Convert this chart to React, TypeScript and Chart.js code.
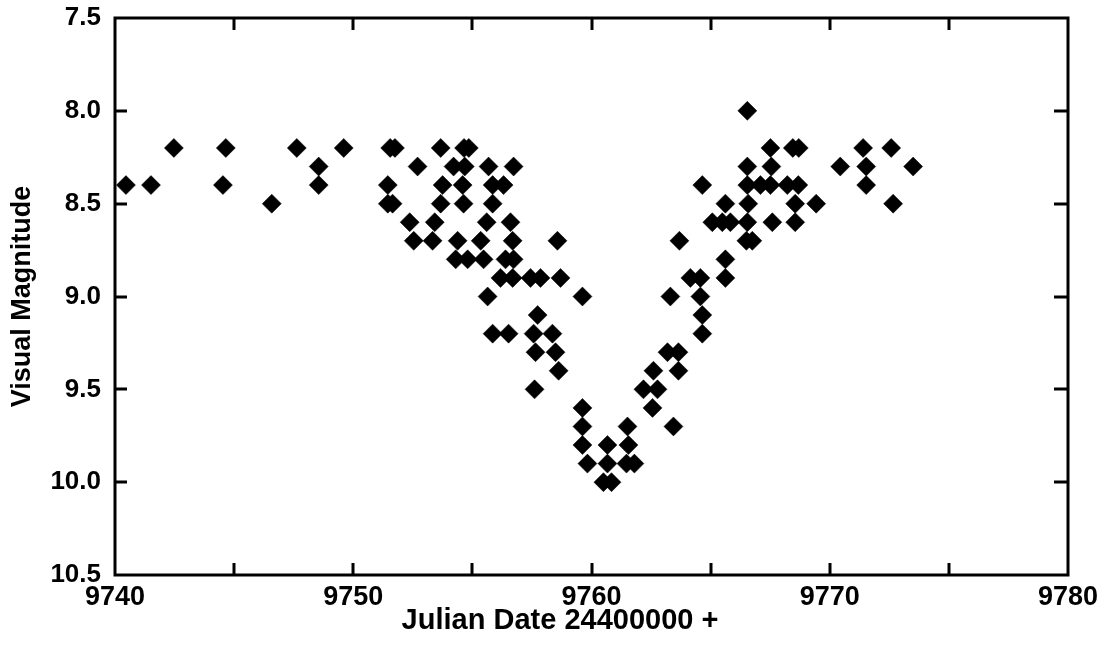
import React, { useEffect, useRef } from "react";
import { Chart, registerables } from "chart.js";

Chart.register(...registerables);

// Julian Date (minus 2440000) of each observation
const julianDates: number[] = [
  9740.46, 9741.51, 9742.47, 9744.65, 9744.53, 9746.58, 9747.63, 9748.55, 9748.55, 9749.6,
  9751.55, 9751.75, 9753.67, 9754.65, 9754.85,
  9752.7, 9754.21, 9754.68, 9755.68, 9756.73,
  9751.45, 9753.75, 9754.59, 9755.85, 9756.31,
  9751.45, 9751.65, 9753.67, 9754.63, 9755.85,
  9752.37, 9753.42, 9755.6, 9756.6,
  9752.54, 9753.33, 9754.38, 9755.35, 9756.69, 9758.57,
  9754.3, 9754.8, 9755.47, 9756.39, 9756.73,
  9756.18, 9756.69, 9757.44, 9757.86, 9758.7,
  9755.64, 9759.62, 9757.74,
  9755.85, 9756.52, 9757.57, 9758.36,
  9757.65, 9758.49, 9758.62, 9757.61,
  9759.62, 9759.62, 9759.62, 9759.83,
  9760.67, 9760.67, 9760.5, 9760.84,
  9761.51, 9761.55, 9761.47, 9761.8,
  9762.6, 9762.18, 9762.77, 9762.56, 9763.44,
  9763.19, 9763.65, 9763.65, 9763.31, 9763.69,
  9764.15, 9764.57, 9764.57, 9764.65, 9764.65, 9764.65,
  9765.62, 9765.62, 9765.07, 9765.49, 9765.83, 9765.62,
  9766.54, 9766.54, 9766.54, 9767.09, 9767.51, 9768.22, 9768.68,
  9766.58, 9766.54, 9766.5, 9766.75,
  9767.51, 9768.45, 9768.7, 9767.55, 9768.55, 9769.43, 9767.59, 9768.55,
  9771.4, 9772.58, 9770.44, 9771.53, 9773.5, 9771.53, 9772.66,
];

// Visual magnitude of each observation (same order)
const magnitudes: number[] = [
  8.4, 8.4, 8.2, 8.2, 8.4, 8.5, 8.2, 8.3, 8.4, 8.2,
  8.2, 8.2, 8.2, 8.2, 8.2,
  8.3, 8.3, 8.3, 8.3, 8.3,
  8.4, 8.4, 8.4, 8.4, 8.4,
  8.5, 8.5, 8.5, 8.5, 8.5,
  8.6, 8.6, 8.6, 8.6,
  8.7, 8.7, 8.7, 8.7, 8.7, 8.7,
  8.8, 8.8, 8.8, 8.8, 8.8,
  8.9, 8.9, 8.9, 8.9, 8.9,
  9.0, 9.0, 9.1,
  9.2, 9.2, 9.2, 9.2,
  9.3, 9.3, 9.4, 9.5,
  9.6, 9.7, 9.8, 9.9,
  9.8, 9.9, 10.0, 10.0,
  9.7, 9.8, 9.9, 9.9,
  9.4, 9.5, 9.5, 9.6, 9.7,
  9.3, 9.3, 9.4, 9.0, 8.7,
  8.9, 8.9, 9.0, 9.1, 9.2, 8.4,
  8.9, 8.8, 8.6, 8.6, 8.6, 8.5,
  8.0, 8.3, 8.4, 8.4, 8.4, 8.4, 8.4,
  8.5, 8.6, 8.7, 8.7,
  8.2, 8.2, 8.2, 8.3, 8.5, 8.5, 8.6, 8.6,
  8.2, 8.2, 8.3, 8.3, 8.3, 8.4, 8.5,
];

const xMin = 9740;
const xMax = 9780;
const xTickStep = 5;
const yMin = 7.5;
const yMax = 10.5;
const yTickStep = 0.5;

const xTitle = "Julian Date 24400000 +";
const yTitle = "Visual Magnitude";

const FONT = "'Liberation Sans', Arial, Helvetica, sans-serif";

const framePlugin = {
  id: "frameTicks",
  afterDatasetsDraw(chart: any) {
    const { ctx, chartArea, scales } = chart;
    const { left, right, top, bottom } = chartArea;
    ctx.save();
    ctx.strokeStyle = "#000";
    ctx.lineWidth = 3;
    ctx.lineCap = "butt";
    ctx.strokeRect(left, top, right - left, bottom - top);
    const tl = 12;
    ctx.beginPath();
    scales.x.ticks.forEach((t: any) => {
      const px = Math.round(scales.x.getPixelForValue(t.value));
      if (px <= left + 2 || px >= right - 2) return;
      ctx.moveTo(px, top);
      ctx.lineTo(px, top + tl);
      ctx.moveTo(px, bottom);
      ctx.lineTo(px, bottom - tl);
    });
    scales.y.ticks.forEach((t: any) => {
      const py = Math.round(scales.y.getPixelForValue(t.value));
      if (py <= top + 2 || py >= bottom - 2) return;
      ctx.moveTo(left, py);
      ctx.lineTo(left + tl, py);
      ctx.moveTo(right, py);
      ctx.lineTo(right - tl - 2, py);
    });
    ctx.stroke();

    // x-axis title, centred on the page as in the original figure
    ctx.fillStyle = "#000";
    ctx.font = `bold 29px ${FONT}`;
    ctx.textAlign = "center";
    ctx.textBaseline = "middle";
    ctx.fillText(xTitle, 560, 621);
    ctx.restore();
  },
};

export default function App() {
  const canvasRef = useRef<HTMLCanvasElement | null>(null);

  useEffect(() => {
    document.body.style.margin = "0";
    const canvas = canvasRef.current;
    if (!canvas) return;
    const points = julianDates.map((x, i) => ({ x, y: magnitudes[i] }));
    const chart = new Chart(canvas, {
      type: "scatter",
      data: {
        datasets: [
          {
            data: points,
            pointStyle: "rectRot",
            pointRadius: 9.5,
            pointHoverRadius: 9.5,
            backgroundColor: "#000",
            borderColor: "#000",
            borderWidth: 0.5,
          },
        ],
      },
      options: {
        animation: false,
        responsive: false,
        events: [],
        layout: { padding: { top: 18, right: 42, left: 0, bottom: 0 } },
        plugins: {
          legend: { display: false },
          tooltip: { enabled: false },
        },
        scales: {
          x: {
            type: "linear",
            min: xMin,
            max: xMax,
            grid: { display: false, drawTicks: false },
            border: { display: false },
            ticks: {
              stepSize: xTickStep,
              autoSkip: false,
              maxRotation: 0,
              padding: 6,
              color: "#000",
              font: { family: FONT, size: 27, weight: "bold" },
              callback: (v: any) => (Number(v) % 10 === 0 ? String(v) : ""),
            },
            afterFit: (scale: any) => {
              scale.height = 89;
            },
          },
          y: {
            type: "linear",
            reverse: true,
            min: yMin,
            max: yMax,
            grid: { display: false, drawTicks: false },
            border: { display: false },
            ticks: {
              stepSize: yTickStep,
              autoSkip: false,
              padding: 14,
              color: "#000",
              font: { family: FONT, size: 26, weight: "bold" },
              callback: (v: any) => Number(v).toFixed(1),
            },
            title: {
              display: true,
              text: yTitle,
              color: "#000",
              font: { family: FONT, size: 27, weight: "bold" },
              padding: { top: 6, bottom: 0 },
            },
            afterFit: (scale: any) => {
              scale.width = 115;
              scale.paddingTop = 0;
              scale.paddingBottom = 0;
            },
          },
        },
      },
      plugins: [framePlugin],
    });
    return () => chart.destroy();
  }, []);

  return (
    <div style={{ position: "absolute", left: 0, top: 0, width: 1110, height: 664, background: "#fff" }}>
      <canvas ref={canvasRef} width={1110} height={664} style={{ display: "block" }} />
    </div>
  );
}
